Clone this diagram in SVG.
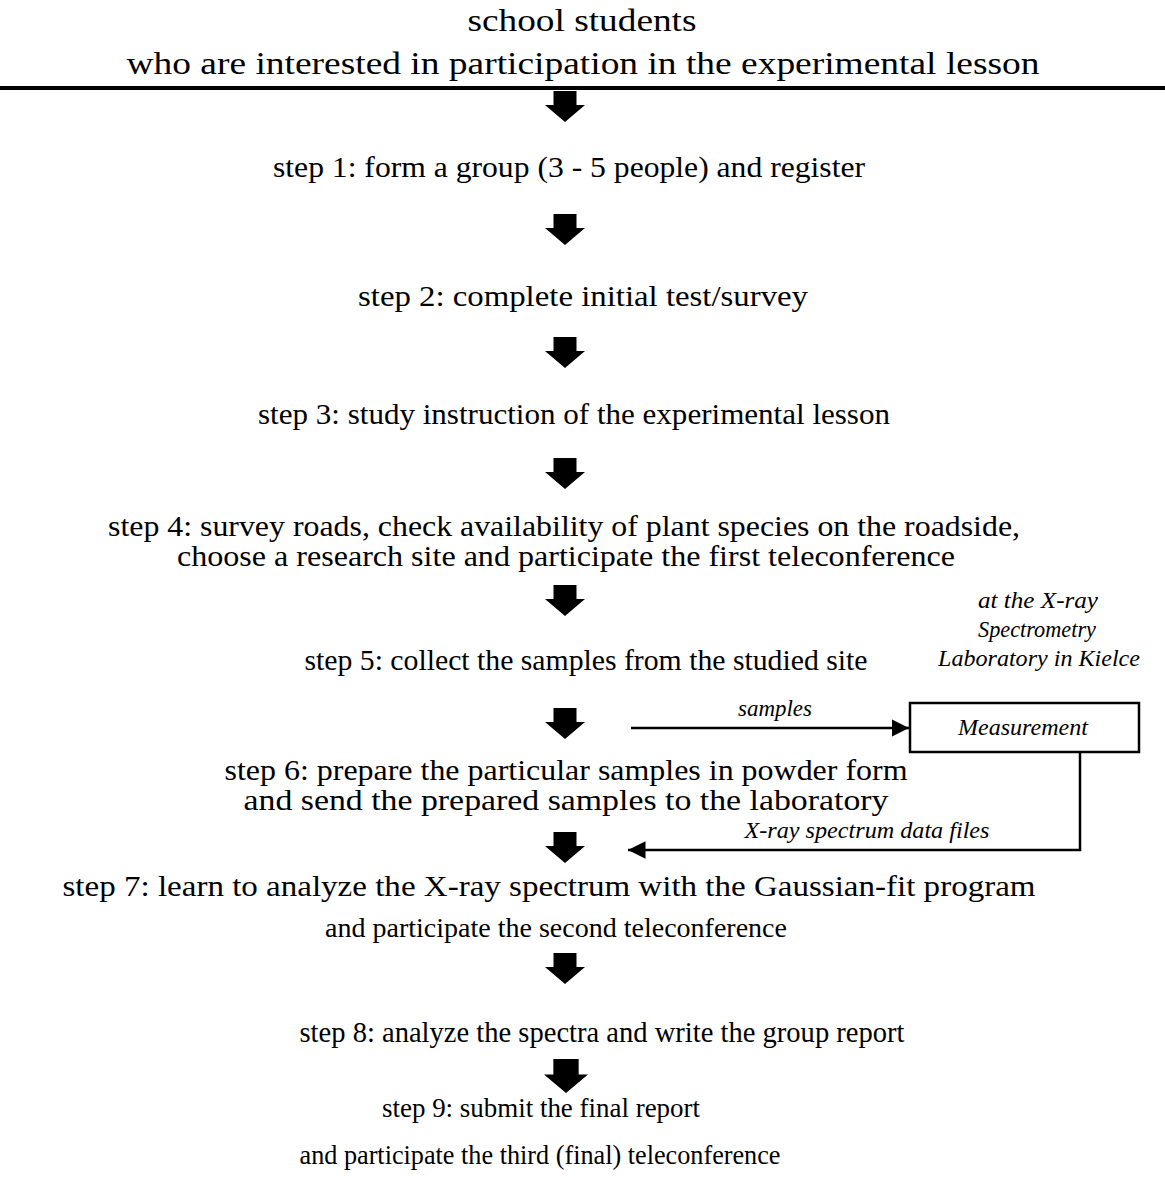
<svg xmlns="http://www.w3.org/2000/svg" width="1165" height="1195" viewBox="0 0 1165 1195">
<style>
.t{font-family:"Liberation Serif","Times New Roman",serif;font-size:30px;fill:#000;text-anchor:middle}
.i{font-family:"Liberation Serif","Times New Roman",serif;font-size:23px;font-style:italic;fill:#000;text-anchor:middle}
.ln{stroke:#000;stroke-width:2.5;fill:none}
</style>
<defs>
<path id="barrow" d="M-11.5,0 h23 v14 h8.5 l-20,17 l-20,-17 h8.5 z" fill="#000"/>
<marker id="ah" viewBox="0 0 10 10" refX="10" refY="5" markerWidth="7" markerHeight="7" markerUnits="strokeWidth" orient="auto">
<path d="M0,0 L10,5 L0,10 z" fill="#000"/>
</marker>
</defs>
<rect width="1165" height="1195" fill="#fff"/>
<g id="start">
<text class="t" x="582" y="31" style="font-size:31px" textLength="229" lengthAdjust="spacingAndGlyphs">school students</text>
<text class="t" x="583" y="74" style="font-size:31px" textLength="913" lengthAdjust="spacingAndGlyphs">who are interested in participation in the experimental lesson</text>
<rect x="0" y="86" width="1165" height="4" fill="#000"/>
</g>
<g id="step1"><text class="t" x="569" y="177" textLength="592" lengthAdjust="spacingAndGlyphs">step 1: form a group (3 - 5 people) and register</text></g>
<g id="step2"><text class="t" x="583" y="306" textLength="450" lengthAdjust="spacingAndGlyphs">step 2: complete initial test/survey</text></g>
<g id="step3"><text class="t" x="574" y="424" textLength="632" lengthAdjust="spacingAndGlyphs">step 3: study instruction of the experimental lesson</text></g>
<g id="step4">
<text class="t" x="564" y="536" textLength="912" lengthAdjust="spacingAndGlyphs">step 4: survey roads, check availability of plant species on the roadside,</text>
<text class="t" x="566" y="566" textLength="778" lengthAdjust="spacingAndGlyphs">choose a research site and participate the first teleconference</text>
</g>
<g id="step5"><text class="t" x="586" y="670" textLength="563" lengthAdjust="spacingAndGlyphs">step 5: collect the samples from the studied site</text></g>
<g id="lab-note">
<text class="i" x="1038" y="608" textLength="120" lengthAdjust="spacingAndGlyphs">at the X-ray</text>
<text class="i" x="1037" y="637" textLength="118" lengthAdjust="spacingAndGlyphs">Spectrometry</text>
<text class="i" x="1039" y="666" textLength="202" lengthAdjust="spacingAndGlyphs">Laboratory in Kielce</text>
</g>
<g id="measurement">
<rect x="910" y="703" width="229" height="49" class="ln" fill="#fff"/>
<text class="i" x="1023" y="735" textLength="130" lengthAdjust="spacingAndGlyphs">Measurement</text>
</g>
<g id="step6">
<text class="t" x="566" y="780" style="font-size:29px" textLength="683" lengthAdjust="spacingAndGlyphs">step 6: prepare the particular samples in powder form</text>
<text class="t" x="566" y="810" style="font-size:29px" textLength="645" lengthAdjust="spacingAndGlyphs">and send the prepared samples to the laboratory</text>
</g>
<g id="step7">
<text class="t" x="549" y="896" textLength="973" lengthAdjust="spacingAndGlyphs">step 7: learn to analyze the X-ray spectrum with the Gaussian-fit program</text>
<text class="t" x="556" y="937" style="font-size:28px" textLength="462" lengthAdjust="spacingAndGlyphs">and participate the second teleconference</text>
</g>
<g id="step8"><text class="t" x="602" y="1042" style="font-size:29px" textLength="605" lengthAdjust="spacingAndGlyphs">step 8: analyze the spectra and write the group report</text></g>
<g id="step9">
<text class="t" x="541" y="1117" style="font-size:27px" textLength="318" lengthAdjust="spacingAndGlyphs">step 9: submit the final report</text>
<text class="t" x="540" y="1164" style="font-size:27px" textLength="481" lengthAdjust="spacingAndGlyphs">and participate the third (final) teleconference</text>
</g>
<g id="connectors">
<use href="#barrow" x="565" y="91"/>
<use href="#barrow" x="565" y="214"/>
<use href="#barrow" x="565" y="337"/>
<use href="#barrow" x="565" y="458"/>
<use href="#barrow" x="565" y="585"/>
<use href="#barrow" x="565" y="708"/>
<use href="#barrow" x="565" y="832"/>
<use href="#barrow" x="565" y="953"/>
<use href="#barrow" x="566" y="1059" transform="translate(566 1059) scale(1.1) translate(-566 -1059)"/>
<line x1="631" y1="728" x2="909" y2="728" class="ln" marker-end="url(#ah)"/>
<text class="i" x="775" y="716" textLength="74" lengthAdjust="spacingAndGlyphs">samples</text>
<polyline points="1080,752 1080,850 628,850" class="ln" marker-end="url(#ah)"/>
<text class="i" x="867" y="838" textLength="245" lengthAdjust="spacingAndGlyphs">X-ray spectrum data files</text>
</g>
</svg>
